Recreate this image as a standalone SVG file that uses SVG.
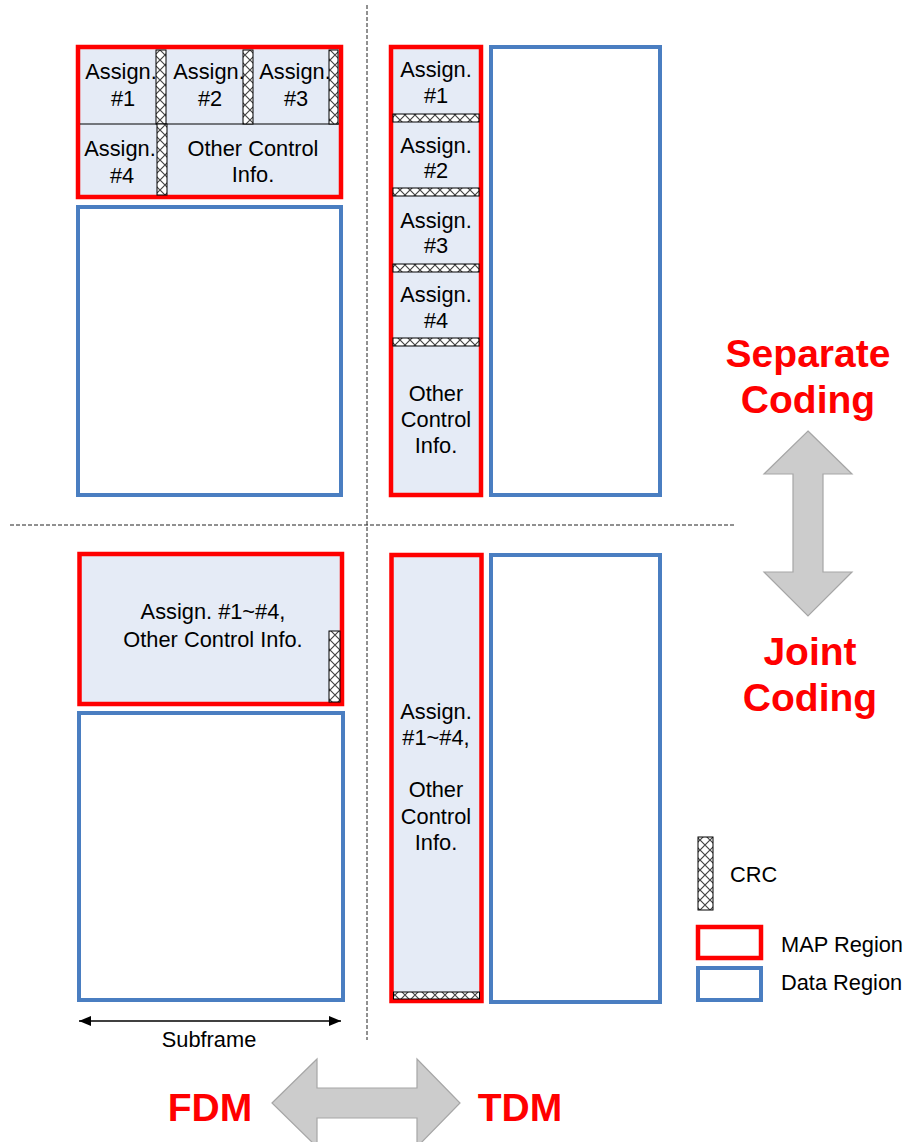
<svg xmlns="http://www.w3.org/2000/svg" width="916" height="1142" viewBox="0 0 916 1142">
<defs>
<pattern id="crc" width="10" height="10" patternUnits="userSpaceOnUse">
<rect width="10" height="10" fill="#fff"/>
<path d="M0 0L10 10M10 0L0 10" stroke="#444" stroke-width="1.2"/>
</pattern>
<marker id="ah" viewBox="0 0 12 10" refX="12" refY="5" markerWidth="12" markerHeight="10" markerUnits="userSpaceOnUse" orient="auto-start-reverse">
<path d="M0 0L12 5L0 10Z" fill="#000"/>
</marker>
<style>
.map{fill:#E5EBF6;stroke:#FF0000;stroke-width:4.5}
.data{fill:#fff;stroke:#4A7EC1;stroke-width:4}
.crc{fill:url(#crc);stroke:#000;stroke-width:1}
.t{font-family:"Liberation Sans",Arial,sans-serif;font-size:21.8px;fill:#000;text-anchor:middle}
.tl{font-family:"Liberation Sans",Arial,sans-serif;font-size:21.8px;fill:#000}
.big{font-family:"Liberation Sans",Arial,sans-serif;font-size:39px;font-weight:bold;fill:#FF0000;text-anchor:middle}
.div{stroke:#000;stroke-width:1}
.dash{stroke:#222;stroke-width:1;stroke-dasharray:4 2;fill:none}
.garrow{fill:#CCCCCC;stroke:#A6A6A6;stroke-width:1.2}
</style>
</defs>

<g id="guides">
<line class="dash" x1="367" y1="5" x2="367" y2="1040"/>
<line class="dash" x1="10" y1="525" x2="735" y2="525"/>
</g>

<!-- FDM Separate -->
<g id="fdm-separate-map">
<rect class="map" x="78" y="47" width="263" height="150"/>
<line class="div" x1="80" y1="124" x2="339" y2="124"/>
<text class="t" x="121" y="79">Assign.</text><text class="t" x="123" y="106">#1</text>
<text class="t" x="209" y="79">Assign.</text><text class="t" x="210" y="106">#2</text>
<text class="t" x="295" y="79">Assign.</text><text class="t" x="296" y="106">#3</text>
<text class="t" x="120" y="156">Assign.</text><text class="t" x="122" y="183">#4</text>
<text class="t" x="253" y="156">Other Control</text><text class="t" x="253" y="182">Info.</text>
<rect class="crc" x="156" y="50" width="10" height="74"/>
<rect class="crc" x="243" y="50" width="10" height="74"/>
<rect class="crc" x="329" y="50" width="9" height="74"/>
<rect class="crc" x="157" y="124" width="10" height="71"/>
</g>
<g id="fdm-separate-data">
<rect class="data" x="78" y="207" width="263" height="288"/>
</g>

<!-- TDM Separate -->
<g id="tdm-separate-map">
<rect class="map" x="391" y="47" width="90" height="448"/>
<text class="t" x="436" y="77">Assign.</text><text class="t" x="436" y="103">#1</text>
<rect class="crc" x="393" y="114" width="86" height="8"/>
<text class="t" x="436" y="153">Assign.</text><text class="t" x="436" y="178">#2</text>
<rect class="crc" x="393" y="188" width="86" height="8"/>
<text class="t" x="436" y="228">Assign.</text><text class="t" x="436" y="253">#3</text>
<rect class="crc" x="393" y="264" width="86" height="8"/>
<text class="t" x="436" y="302">Assign.</text><text class="t" x="436" y="328">#4</text>
<rect class="crc" x="393" y="338" width="86" height="8"/>
<text class="t" x="436" y="401">Other</text><text class="t" x="436" y="427">Control</text><text class="t" x="436" y="453">Info.</text>
</g>
<g id="tdm-separate-data">
<rect class="data" x="491" y="47" width="169" height="448"/>
</g>

<!-- FDM Joint -->
<g id="fdm-joint-map">
<rect class="map" x="79.5" y="554" width="262.5" height="150"/>
<text class="t" x="213" y="619">Assign. #1~#4,</text>
<text class="t" x="213" y="647">Other Control Info.</text>
<rect class="crc" x="329" y="631" width="11" height="71"/>
</g>
<g id="fdm-joint-data">
<rect class="data" x="79" y="713" width="264" height="287"/>
</g>

<!-- TDM Joint -->
<g id="tdm-joint-map">
<rect class="map" x="391.5" y="555" width="90" height="446"/>
<text class="t" x="436" y="719">Assign.</text><text class="t" x="436" y="745">#1~#4,</text>
<text class="t" x="436" y="797">Other</text><text class="t" x="436" y="824">Control</text><text class="t" x="436" y="850">Info.</text>
<rect class="crc" x="393.5" y="992" width="86" height="7"/>
</g>
<g id="tdm-joint-data">
<rect class="data" x="491" y="555" width="169" height="447"/>
</g>

<!-- Connectors -->
<g id="connectors">
<line x1="79" y1="1021" x2="341" y2="1021" stroke="#000" stroke-width="1.5" marker-start="url(#ah)" marker-end="url(#ah)"/>
<path class="garrow" d="M808 431L852 474L823 474L823 572L852 572L808 616L764 572L793 572L793 474L764 474Z"/>
<path class="garrow" d="M272 1103L317 1059L317 1088L417 1088L417 1059L460 1103L417 1147L417 1118L317 1118L317 1147Z"/>
</g>

<g id="labels">
<text class="t" x="209" y="1047">Subframe</text>
<text class="big" x="808" y="367">Separate</text>
<text class="big" x="808" y="413">Coding</text>
<text class="big" x="810" y="665">Joint</text>
<text class="big" x="810" y="711">Coding</text>
<text class="big" x="210" y="1121">FDM</text>
<text class="big" x="520" y="1121">TDM</text>
</g>

<g id="legend">
<rect class="crc" x="698" y="837" width="15" height="73"/>
<text class="tl" x="730" y="882">CRC</text>
<rect x="698" y="927" width="63" height="31" fill="#fff" stroke="#FF0000" stroke-width="4.5"/>
<text class="tl" x="781" y="952">MAP Region</text>
<rect x="698" y="968" width="63" height="32" fill="#fff" stroke="#4A7EC1" stroke-width="4"/>
<text class="tl" x="781" y="990">Data Region</text>
</g>
</svg>
